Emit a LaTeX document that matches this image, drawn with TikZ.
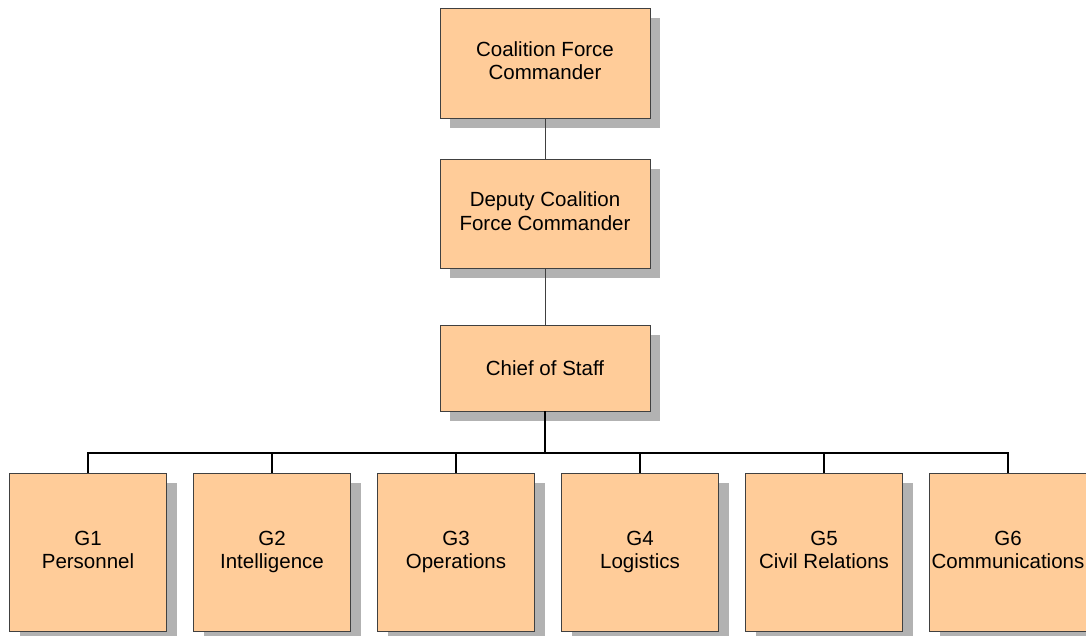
\documentclass[tikz,border=0pt]{standalone}
\usepackage{fontspec}
\setmainfont{Liberation Sans}
\usetikzlibrary{shadows}
\definecolor{boxfill}{RGB}{255,204,153}
\definecolor{boxline}{RGB}{64,64,64}
\definecolor{boxshade}{RGB}{178,178,178}
\begin{document}
\begin{tikzpicture}
  [
    x=1pt,y=-1pt,
    inner sep=0mm,
    post/.style={rectangle,draw=boxline,line width=0.9pt,fill=boxfill,align=center,
      font=\fontsize{20.5}{23.5}\selectfont,
      execute at begin node={\rule{0pt}{19pt}},
      execute at end node={\rule[-4.5pt]{0pt}{4.5pt}},
      drop shadow={shadow xshift=10pt,shadow yshift=-10pt,fill=boxshade,opacity=1}},
    chief/.style={post,minimum width=210pt},
    branch/.style={post,minimum width=157pt,minimum height=158pt},
    link/.style={draw=boxline,line width=0.8pt},
    bus/.style={draw=black,line width=2pt},
  ]
  \useasboundingbox (0,0) rectangle (1086,635);
  \node[chief,minimum height=110pt] (cfc)  at (545,63)    {Coalition Force\\Commander};
  \node[chief,minimum height=109pt] (dcfc) at (545,213.5) {Deputy Coalition\\Force Commander};
  \node[chief,minimum height=86pt]  (cos)  at (545,368)   {Chief of Staff};
  \node[branch] (g1) at (88,552)   {G1\\Personnel};
  \node[branch] (g2) at (272,552)  {G2\\Intelligence};
  \node[branch] (g3) at (456,552)  {G3\\Operations};
  \node[branch] (g4) at (640,552)  {G4\\Logistics};
  \node[branch] (g5) at (824,552)  {G5\\Civil Relations};
  \node[branch] (g6) at (1008,552) {G6\\Communications};
  \coordinate (fork) at (545,453);
  % chain of command
  \draw[link] (cfc) -- (dcfc);
  \draw[link] (dcfc) -- (cos);
  \draw[bus] (cos) -- (fork);
  \draw[bus,line cap=rect] (fork -| g1.north) -- (fork -| g6.north);
  \foreach \g in {g1,g2,g3,g4,g5,g6}
    \draw[bus] (fork -| \g.north) -- (\g.north);
\end{tikzpicture}
\end{document}
